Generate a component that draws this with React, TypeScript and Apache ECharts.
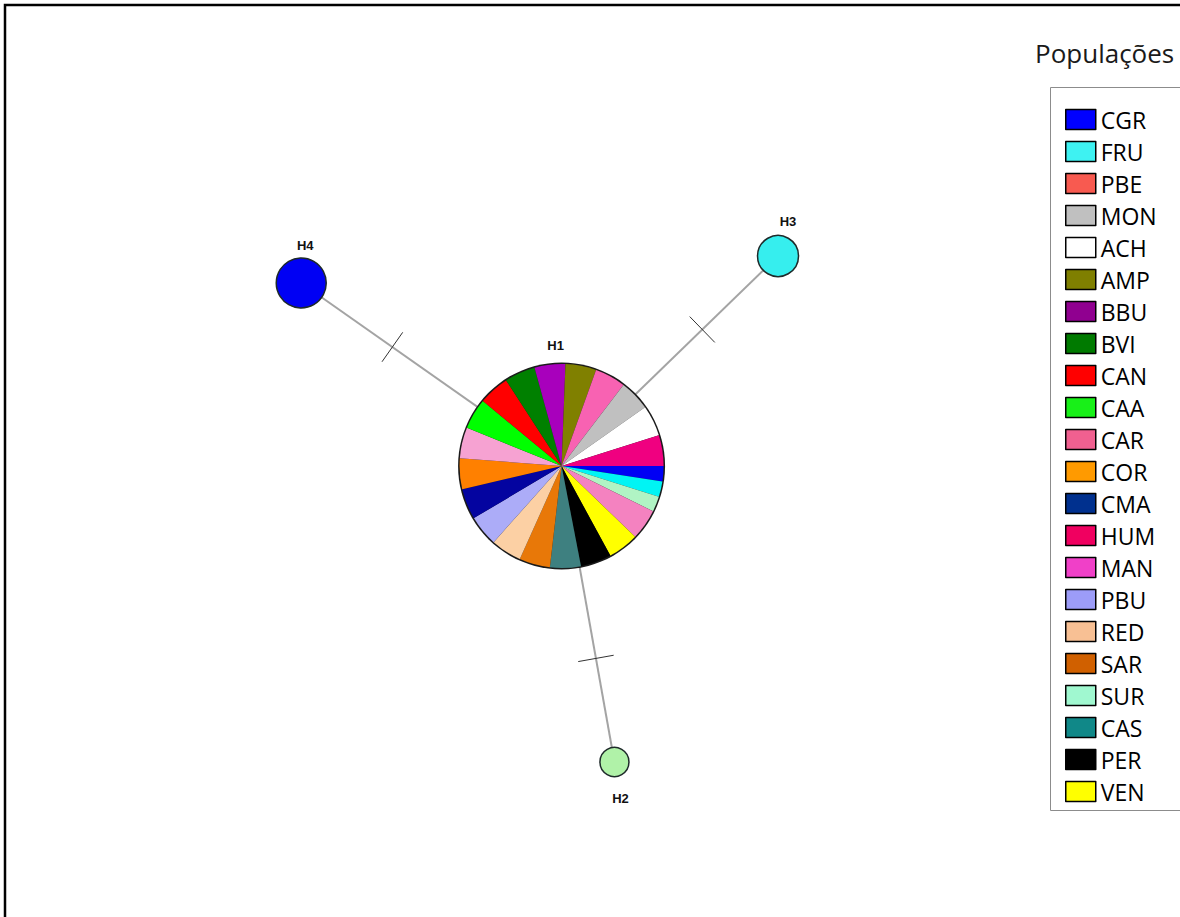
import React, { useEffect, useRef } from "react";
import * as echarts from "echarts";

// Haplotype network: nodes in layout units (100 px per unit), H1 at origin
const nodeNames = ["H1", "H2", "H3", "H4"];
const nodeX = [0, 0.53, 2.17, -2.61];
const nodeY = [0, -2.96, 2.1, 1.83];

// Links between haplotypes and mutation steps on each link
const links = [
  [0, 1],
  [0, 2],
  [0, 3],
];
const mutationSteps = [1, 1, 1];

// Composition of the shared haplotype H1 (clockwise from 3 o'clock)
const h1Populations = [
  "CGR", "FRU", "SUR", "CAR", "VEN", "PER", "CAS", "SAR", "RED", "PBU", "CMA",
  "COR", "PBE", "CAA", "CAN", "BVI", "BBU", "AMP", "MAN", "MON", "ACH", "HUM",
];
const h1Counts = [1, 1, 1, 2, 2, 2, 2, 2, 2, 2, 2, 2, 2, 2, 2, 2, 2, 2, 2, 2, 2, 2];

// Legend entries
const legendTitle = "Populações";
const populations = [
  "CGR", "FRU", "PBE", "MON", "ACH", "AMP", "BBU", "BVI", "CAN", "CAA", "CAR",
  "COR", "CMA", "HUM", "MAN", "PBU", "RED", "SAR", "SUR", "CAS", "PER", "VEN",
];

// ---- styles ----
const legendColors: Record<string, string> = {
  CGR: "#0000ff", FRU: "#3ef2f2", PBE: "#f85a50", MON: "#c0c0c0", ACH: "#ffffff",
  AMP: "#7f7f00", BBU: "#900090", BVI: "#007a00", CAN: "#ff0000", CAA: "#18f018",
  CAR: "#f06090", COR: "#ff9a00", CMA: "#00308e", HUM: "#f00060", MAN: "#f040c8",
  PBU: "#9c9cf8", RED: "#f8c094", SAR: "#d06000", SUR: "#a0f8d0", CAS: "#108888",
  PER: "#000000", VEN: "#ffff00",
};
const sliceColors: Record<string, string> = {
  CGR: "#0000f4", FRU: "#00f4f4", SUR: "#b0f4c4", CAR: "#f482c0", VEN: "#ffff00",
  PER: "#000000", CAS: "#3e8080", SAR: "#e87808", RED: "#fcd0a4", PBU: "#acacf8",
  CMA: "#0404a0", COR: "#ff8000", PBE: "#f6a2d2", CAA: "#00ff00", CAN: "#ff0000",
  BVI: "#008000", BBU: "#a800bc", AMP: "#808000", MAN: "#f862b2", MON: "#c0c0c0",
  ACH: "#ffffff", HUM: "#f00080",
};
const nodeColors = ["transparent", "#b0f2a8", "#36eeee", "#0000f4"];
const nodeSizes = [205, 29, 41, 50];
const labelPlacement = [
  { position: "top", distance: 12, offset: [-6, 0] },
  { position: "bottom", distance: 15, offset: [6, 0] },
  { position: "top", distance: 7, offset: [10, 0] },
  { position: "top", distance: 5, offset: [4, 0] },
];
const TICK_AT = 0.65;
const TICK_HALF = 18;
const PIE_R = 102;

export default function App() {
  const ref = useRef<HTMLDivElement>(null);

  useEffect(() => {
    const chart = echarts.init(ref.current!, null, { renderer: "svg" });

    const option: any = {
      animation: false,
      backgroundColor: "#ffffff",
      title: {
        text: legendTitle,
        left: 1035,
        top: 40,
        padding: 0,
        textStyle: {
          fontFamily: "Open Sans",
          fontSize: 26,
          fontWeight: "normal",
          color: "#1a1a1a",
        },
      },
      grid: { left: 3, top: 0, width: 1180, height: 917, show: false },
      xAxis: { type: "value", min: -5.6, max: 6.2, show: false },
      yAxis: { type: "value", min: -4.51, max: 4.66, show: false },
      legend: {
        orient: "vertical",
        left: 1065,
        top: 108,
        padding: 0,
        itemWidth: 30,
        itemHeight: 20,
        itemGap: 9,
        icon: "rect",
        selectedMode: false,
        itemStyle: { borderColor: "#000000", borderWidth: 1.5 },
        textStyle: {
          fontFamily: "Open Sans",
          fontSize: 23,
          color: "#000000",
          padding: [6, 0, 0, 0],
        },
        data: populations.map((p) => ({
          name: p,
          itemStyle: { color: legendColors[p] },
        })),
      },
      graphic: [
        {
          type: "rect",
          silent: true,
          shape: { x: 5, y: 5, width: 1200, height: 1000 },
          style: { fill: "none", stroke: "#000000", lineWidth: 2.5 },
        },
        {
          type: "rect",
          silent: true,
          shape: { x: 1050.5, y: 87.5, width: 200, height: 723 },
          style: { fill: "none", stroke: "#8c8c8c", lineWidth: 1 },
        },
      ],
      series: [
        {
          type: "graph",
          coordinateSystem: "cartesian2d",
          layout: "none",
          silent: true,
          z: 2,
          symbol: "circle",
          data: nodeNames.map((n, i) => ({
            name: n,
            value: [nodeX[i], nodeY[i]],
            symbolSize: nodeSizes[i],
            itemStyle: {
              color: nodeColors[i],
              borderColor: i === 0 ? "transparent" : "#1e2a2a",
              borderWidth: i === 0 ? 0 : 1.5,
            },
            label: {
              show: true,
              position: labelPlacement[i].position,
              distance: labelPlacement[i].distance,
              offset: labelPlacement[i].offset,
            },
          })),
          links: links.map(([s, t], k) => ({
            source: nodeNames[s],
            target: nodeNames[t],
            value: mutationSteps[k],
          })),
          lineStyle: { color: "#a4a4a4", width: 2, opacity: 1, curveness: 0 },
          label: {
            fontFamily: "Liberation Sans",
            fontWeight: "bold",
            fontSize: 13,
            color: "#111111",
          },
          emphasis: { disabled: true },
        },
        {
          id: "h1ring",
          type: "pie",
          silent: true,
          z: 3,
          radius: PIE_R + 1.5,
          center: ["50%", "50%"],
          label: { show: false },
          labelLine: { show: false },
          itemStyle: { borderWidth: 0 },
          emphasis: { disabled: true },
          data: [{ name: "_ring", value: 1, itemStyle: { color: "#1a1a1a" } }],
        },
        {
          id: "h1",
          type: "pie",
          name: "H1",
          silent: true,
          z: 4,
          radius: PIE_R,
          center: ["50%", "50%"],
          startAngle: 0,
          clockwise: true,
          label: { show: false },
          labelLine: { show: false },
          itemStyle: { borderWidth: 0 },
          emphasis: { disabled: true },
          data: h1Populations.map((p, i) => ({
            name: p,
            value: h1Counts[i],
            itemStyle: { color: sliceColors[p] },
          })),
        },
        {
          // one cross tick per mutation step on each link
          type: "custom",
          coordinateSystem: "cartesian2d",
          silent: true,
          z: 5,
          encode: { x: [0, 2], y: [1, 3] },
          data: links.map(([s, t], k) => [
            nodeX[s], nodeY[s], nodeX[t], nodeY[t], mutationSteps[k],
          ]),
          renderItem: (params: any, api: any) => {
            const a = api.coord([api.value(0), api.value(1)]);
            const b = api.coord([api.value(2), api.value(3)]);
            const steps = api.value(4);
            const dx = b[0] - a[0];
            const dy = b[1] - a[1];
            const len = Math.hypot(dx, dy);
            const px = -dy / len;
            const py = dx / len;
            const children: any[] = [];
            for (let m = 0; m < steps; m++) {
              const f = steps === 1 ? TICK_AT : TICK_AT - 0.05 * (steps - 1) / 2 + 0.05 * m;
              const cx = a[0] + dx * f;
              const cy = a[1] + dy * f;
              children.push({
                type: "line",
                shape: {
                  x1: cx - px * TICK_HALF,
                  y1: cy - py * TICK_HALF,
                  x2: cx + px * TICK_HALF,
                  y2: cy + py * TICK_HALF,
                },
                style: { stroke: "#333333", lineWidth: 1 },
              });
            }
            return { type: "group", children };
          },
        },
      ],
    };

    chart.setOption(option);
    const c = chart.convertToPixel({ gridIndex: 0 }, [nodeX[0], nodeY[0]]);
    chart.setOption({
      series: [
        { id: "h1ring", center: c },
        { id: "h1", center: c },
      ],
    });

    return () => chart.dispose();
  }, []);

  return (
    <div
      ref={ref}
      style={{
        position: "fixed",
        left: 0,
        top: 0,
        width: 1180,
        height: 917,
        background: "#ffffff",
      }}
    />
  );
}
